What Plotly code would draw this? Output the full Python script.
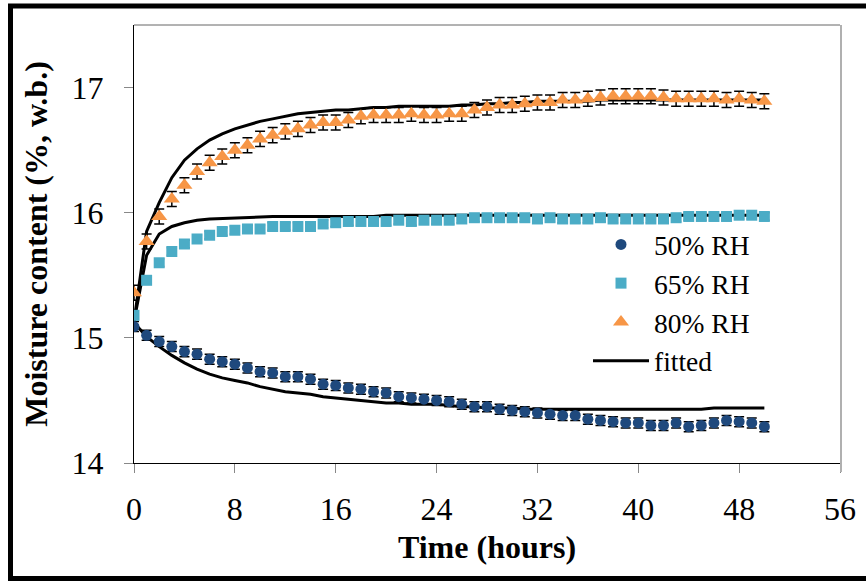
import plotly.graph_objects as go

# Sampling times (hours)
hours = list(range(0, 51))

# Measured moisture content (% w.b.) at each relative humidity
rh50 = [15.09, 15.02, 14.97, 14.93, 14.89, 14.87, 14.83, 14.81, 14.79, 14.76,
        14.73, 14.72, 14.69, 14.69, 14.67, 14.63, 14.62, 14.60, 14.59, 14.57,
        14.56, 14.53, 14.52, 14.51, 14.50, 14.49, 14.47, 14.45, 14.45, 14.43,
        14.42, 14.41, 14.40, 14.39, 14.38, 14.38, 14.35, 14.34, 14.33, 14.32,
        14.32, 14.30, 14.30, 14.32, 14.29, 14.30, 14.32, 14.34, 14.33, 14.32,
        14.29]
rh65 = [15.18, 15.46, 15.60, 15.69, 15.75, 15.79, 15.82, 15.85, 15.86, 15.87,
        15.87, 15.89, 15.89, 15.89, 15.89, 15.91, 15.92, 15.93, 15.93, 15.93,
        15.93, 15.94, 15.93, 15.94, 15.94, 15.94, 15.95, 15.96, 15.96, 15.96,
        15.96, 15.96, 15.95, 15.96, 15.95, 15.95, 15.95, 15.96, 15.95, 15.95,
        15.95, 15.95, 15.95, 15.96, 15.97, 15.97, 15.97, 15.97, 15.98, 15.98,
        15.97]
rh80 = [15.36, 15.77, 15.97, 16.11, 16.22, 16.33, 16.40, 16.45, 16.50, 16.54,
        16.59, 16.62, 16.65, 16.67, 16.70, 16.72, 16.72, 16.74, 16.77, 16.78,
        16.78, 16.78, 16.79, 16.78, 16.78, 16.79, 16.79, 16.82, 16.84, 16.86,
        16.86, 16.87, 16.88, 16.88, 16.90, 16.90, 16.91, 16.92, 16.93, 16.93,
        16.93, 16.93, 16.92, 16.91, 16.91, 16.91, 16.91, 16.90, 16.91, 16.90,
        16.89]

# Standard deviations of the measurements
err50 = 0.04
err65 = 0.03
err80 = 0.06

# Model predictions
fit50 = [15.12, 15.01, 14.93, 14.86, 14.80, 14.75, 14.71, 14.68, 14.66, 14.64,
         14.61, 14.59, 14.57, 14.56, 14.55, 14.53, 14.52, 14.51, 14.50, 14.49,
         14.48, 14.48, 14.47, 14.47, 14.47, 14.46, 14.45, 14.45, 14.44, 14.44,
         14.44, 14.43, 14.43, 14.43, 14.43, 14.43, 14.43, 14.43, 14.43, 14.43,
         14.43, 14.43, 14.43, 14.43, 14.43, 14.43, 14.44, 14.44, 14.44, 14.44,
         14.44]
fit65 = [15.13, 15.66, 15.83, 15.89, 15.92, 15.94, 15.95, 15.955, 15.96, 15.965,
         15.97, 15.97, 15.97, 15.97, 15.97, 15.97, 15.97, 15.97, 15.97, 15.97,
         15.98, 15.98, 15.98, 15.98, 15.98, 15.98, 15.98, 15.98, 15.98, 15.98,
         15.98, 15.98, 15.98, 15.98, 15.98, 15.98, 15.98, 15.98, 15.98, 15.98,
         15.98, 15.98, 15.98, 15.98, 15.98, 15.98, 15.98, 15.98, 15.98, 15.98,
         15.98]
fit80 = [15.13, 15.85, 16.08, 16.28, 16.42, 16.51, 16.58, 16.63, 16.67, 16.70,
         16.73, 16.75, 16.77, 16.79, 16.80, 16.81, 16.82, 16.82, 16.83, 16.84,
         16.84, 16.85, 16.85, 16.85, 16.85, 16.85, 16.86, 16.86, 16.87, 16.87,
         16.88, 16.88, 16.89, 16.89, 16.89, 16.89, 16.89, 16.90, 16.90, 16.90,
         16.90, 16.90, 16.90, 16.90, 16.90, 16.90, 16.90, 16.90, 16.90, 16.90,
         16.90]

x_ticks = [0, 8, 16, 24, 32, 40, 48, 56]
y_ticks = [14, 15, 16, 17]

FONT = "Liberation Serif"
W, H = 866, 581
ML, MR, MT, MB = 134, 26, 25, 118
PW, PH = W - ML - MR, H - MT - MB


def px(xp):
    return (xp - ML) / PW


def py(yp):
    return (H - MB - yp) / PH


fig = go.Figure()

# Fitted curves sit underneath the measured points
for i, f in enumerate([fit50, fit65, fit80]):
    fig.add_trace(go.Scatter(
        x=hours, y=f, mode="lines", name="fitted",
        line=dict(color="black", width=3),
        showlegend=(i == 0), legendrank=4,
    ))

series = [
    ("50% RH", rh50, err50, "#1F497D", "circle", 11, 1),
    ("65% RH", rh65, err65, "#4BACC6", "square", 11, 2),
    ("80% RH", rh80, err80, "#F79646", "triangle-up", 14, 3),
]
for name, vals, err, col, sym, size, rank in series:
    fig.add_trace(go.Scatter(
        x=hours, y=vals, mode="markers", name=name,
        marker=dict(color=col, symbol=sym, size=size, line=dict(width=0)),
        error_y=dict(type="constant", value=err, color="black",
                     thickness=1.5, width=5),
        legendrank=rank,
    ))

axis_common = dict(
    showgrid=False, zeroline=False, showline=True, linecolor="black",
    linewidth=1, ticks="outside", ticklen=9, tickcolor="#888888",
    tickwidth=1, tickfont=dict(family=FONT, size=32, color="black"),
)

fig.update_xaxes(
    range=[0, 56], tickvals=x_ticks, ticklabelstandoff=9,
    title=dict(text="<b>Time (hours)</b>", standoff=9,
               font=dict(family=FONT, size=32, color="black")),
    **axis_common,
)
fig.update_yaxes(
    range=[14, 17.5], tickvals=y_ticks, ticklabelstandoff=14,
    title=dict(text="<b>Moisture content (%, w.b.)</b>", standoff=14,
               font=dict(family=FONT, size=32, color="black")),
    **axis_common,
)

# Plot-area top/right edges and the outer frame
shapes = [
    dict(type="line", xref="paper", yref="paper", x0=0, x1=1, y0=1, y1=1,
         line=dict(color="#666666", width=1)),
    dict(type="line", xref="paper", yref="paper", x0=px(841), x1=px(841),
         y0=py(472), y1=1, line=dict(color="#b0b0b0", width=2)),
    dict(type="rect", xref="paper", yref="paper", x0=px(10.5), x1=px(875),
         y0=py(578.5), y1=py(6), line=dict(color="black", width=5),
         layer="above"),
]

fig.update_layout(
    width=W, height=H,
    margin=dict(l=ML, r=MR, t=MT, b=MB, autoexpand=False),
    paper_bgcolor="white", plot_bgcolor="white",
    font=dict(family=FONT, color="black"),
    shapes=shapes,
    legend=dict(
        x=px(588), y=py(220), xanchor="left", yanchor="top",
        font=dict(family=FONT, size=27.5, color="black"),
        bgcolor="rgba(0,0,0,0)", itemwidth=56, tracegroupgap=0,
    ),
)

fig.write_html("out.html")
